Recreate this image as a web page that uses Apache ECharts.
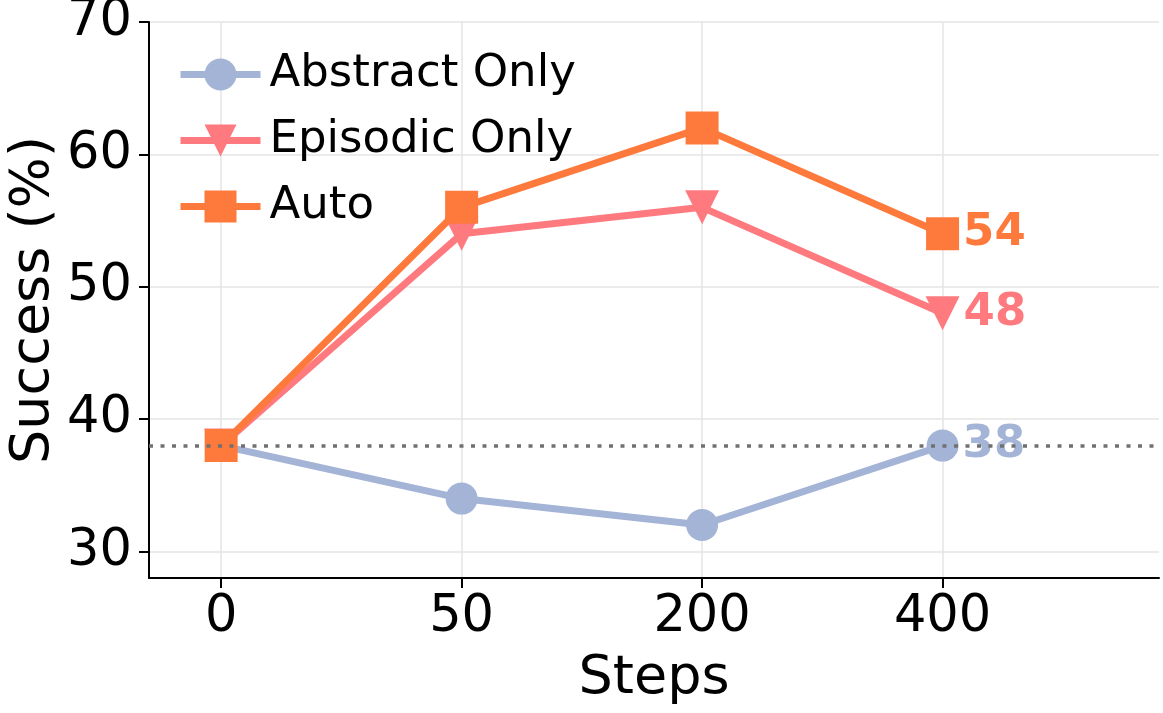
<!DOCTYPE html>
<html>
<head>
<meta charset="utf-8">
<script src="https://cdn.jsdelivr.net/npm/echarts@6/dist/echarts.min.js"></script>
<style>
  html, body { margin: 0; padding: 0; background: #fff; }
  #main { width: 1163px; height: 713px; }
</style>
</head>
<body>
<div id="main"></div>
<script>
// data
var steps = ['0', '50', '200', '400'];
var abstractOnly = [38, 34, 32, 38];
var episodicOnly = [38, 54, 56, 48];
var autoMode = [38, 56, 62, 54];
var yTicks = [30, 40, 50, 60, 70];
var baseline = 38;

var FONT = 'DejaVu Sans';
var stepIdx = steps.map(function (s, i) { return i; });

// last point gets a bold value label
function pts(values, color) {
  return values.map(function (v, i) {
    var item = { value: [i, v] };
    if (i === values.length - 1) {
      item.label = {
        show: true,
        position: 'right',
        distance: 4,
        formatter: String(v),
        color: color,
        fontFamily: FONT,
        fontWeight: 'bold',
        fontSize: 45
      };
    }
    return item;
  });
}

var chart = echarts.init(document.getElementById('main'));

var option = {
  animation: false,
  backgroundColor: '#fff',
  textStyle: { fontFamily: FONT },
  grid: { left: 149, right: 4, top: 22, bottom: 135, containLabel: false, outerBoundsMode: 'none' },
  legend: {
    left: 172,
    top: 47,
    orient: 'vertical',
    itemWidth: 80,
    itemHeight: 40,
    itemGap: 21,
    lineStyle: { width: 7 },
    textStyle: { fontFamily: FONT, fontSize: 45, color: '#000', padding: [0, 0, 0, 4] },
    data: ['Abstract Only', 'Episodic Only', 'Auto']
  },
  xAxis: {
    type: 'value',
    min: -0.3,
    max: 3.9,
    name: 'Steps',
    nameLocation: 'middle',
    nameGap: 74,
    nameTextStyle: { fontFamily: FONT, fontSize: 54, color: '#000' },
    axisLine: { show: true, onZero: false, lineStyle: { color: '#000', width: 2 } },
    axisTick: { show: true, length: 10, lineStyle: { color: '#000', width: 2 }, customValues: stepIdx },
    axisLabel: {
      customValues: stepIdx,
      margin: 14,
      fontFamily: FONT, fontSize: 51, color: '#000',
      formatter: function (v) { return steps[Math.round(v)]; }
    },
    splitLine: { show: true, customValues: stepIdx, lineStyle: { color: '#e5e5e5', width: 1.5 } }
  },
  yAxis: {
    type: 'value',
    min: 28,
    max: 70,
    name: 'Success (%)',
    nameLocation: 'middle',
    nameGap: 88,
    nameMoveOverlap: false,
    nameTextStyle: { fontFamily: FONT, fontSize: 54, color: '#000' },
    axisLine: { show: true, onZero: false, lineStyle: { color: '#000', width: 2 } },
    axisTick: { show: true, length: 10, lineStyle: { color: '#000', width: 2 }, customValues: yTicks },
    axisLabel: { customValues: yTicks, margin: 17, fontFamily: FONT, fontSize: 51, color: '#000' },
    splitLine: { show: true, customValues: yTicks, lineStyle: { color: '#e5e5e5', width: 1.5 } }
  },
  series: [
    {
      name: 'Abstract Only',
      type: 'line',
      data: pts(abstractOnly, '#a4b4d6'),
      symbol: 'circle',
      symbolSize: 32,
      color: '#a4b4d6',
      lineStyle: { width: 7 },
      itemStyle: { color: '#a4b4d6' },
      markLine: {
        silent: true,
        symbol: 'none',
        label: { show: false },
        lineStyle: { color: '#707070', width: 3.5, type: [4, 7.5] },
        data: [{ yAxis: baseline }]
      },
      z: 2
    },
    {
      name: 'Episodic Only',
      type: 'line',
      data: pts(episodicOnly, '#fe7a7f'),
      symbol: 'triangle',
      symbolRotate: 180,
      symbolSize: 34,
      color: '#fe7a7f',
      lineStyle: { width: 7 },
      itemStyle: { color: '#fe7a7f' },
      z: 3
    },
    {
      name: 'Auto',
      type: 'line',
      data: pts(autoMode, '#fe7a3c'),
      symbol: 'rect',
      symbolSize: 33,
      color: '#fe7a3c',
      lineStyle: { width: 7 },
      itemStyle: { color: '#fe7a3c' },
      z: 4
    }
  ]
};

chart.setOption(option);
</script>
</body>
</html>
